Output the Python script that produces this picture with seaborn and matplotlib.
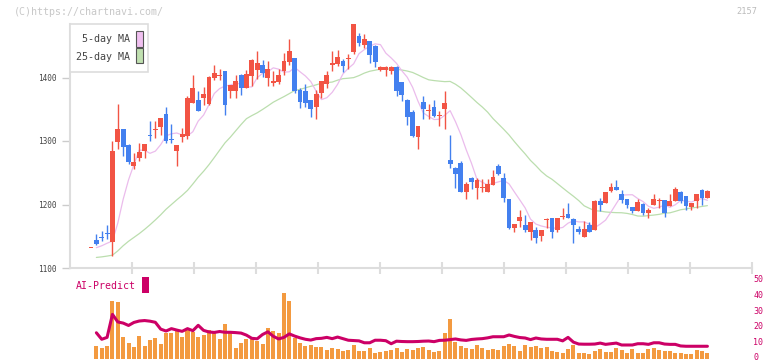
import numpy as np
import pandas as pd
import seaborn as sns
import matplotlib.pyplot as plt
from matplotlib.patches import Rectangle
from matplotlib.transforms import ScaledTranslation

# daily prices (yen); bar 0 is the flat reference bar before trading starts
opens = [1132, 1144, 1148, 1154, 1141, 1299, 1319, 1294, 1261, 1274,
         1284, 1309, 1317, 1322, 1342, 1302, 1285, 1307, 1308, 1360,
         1365, 1368, 1358, 1400, 1403, 1410, 1378, 1378, 1404, 1383,
         1402, 1412, 1420, 1399, 1392, 1393, 1411, 1425, 1431, 1380,
         1379, 1364, 1354, 1375, 1389, 1420, 1421, 1426, 1429, 1440,
         1466, 1451, 1457, 1450, 1412, 1412, 1411, 1417, 1393, 1365,
         1345, 1307, 1362, 1348, 1353, 1339, 1350, 1270, 1258, 1266,
         1220, 1242, 1226, 1226, 1219, 1230, 1261, 1242, 1209, 1163,
         1174, 1168, 1157, 1160, 1151, 1175, 1179, 1160, 1181, 1185,
         1177, 1161, 1149, 1168, 1160, 1206, 1203, 1221, 1228, 1216,
         1208, 1196, 1189, 1200, 1186, 1199, 1205, 1207, 1197, 1206,
         1219, 1213, 1196, 1205, 1223, 1210]
highs = [1132, 1153, 1158, 1168, 1300, 1358, 1319, 1295, 1281, 1297,
         1295, 1331, 1331, 1336, 1354, 1327, 1293, 1320, 1371, 1404,
         1379, 1385, 1403, 1420, 1414, 1410, 1388, 1404, 1405, 1412,
         1429, 1441, 1427, 1426, 1411, 1414, 1439, 1460, 1431, 1384,
         1390, 1364, 1380, 1394, 1411, 1442, 1444, 1429, 1437, 1485,
         1470, 1468, 1457, 1451, 1418, 1418, 1418, 1418, 1393, 1366,
         1349, 1324, 1371, 1358, 1365, 1347, 1378, 1309, 1259, 1269,
         1236, 1244, 1242, 1240, 1240, 1254, 1264, 1249, 1209, 1170,
         1191, 1183, 1172, 1165, 1160, 1179, 1179, 1179, 1195, 1202,
         1179, 1166, 1174, 1173, 1207, 1211, 1219, 1234, 1239, 1223,
         1208, 1196, 1209, 1202, 1195, 1217, 1211, 1207, 1217, 1228,
         1222, 1213, 1203, 1217, 1224, 1223]
lows = [1132, 1136, 1143, 1146, 1119, 1287, 1277, 1264, 1256, 1268,
        1274, 1300, 1305, 1309, 1297, 1297, 1260, 1299, 1303, 1360,
        1348, 1356, 1357, 1396, 1396, 1341, 1367, 1367, 1372, 1383,
        1387, 1397, 1401, 1386, 1386, 1389, 1404, 1419, 1376, 1352,
        1353, 1338, 1334, 1368, 1383, 1411, 1418, 1408, 1413, 1437,
        1450, 1446, 1423, 1417, 1410, 1402, 1405, 1371, 1363, 1325,
        1307, 1287, 1335, 1335, 1338, 1324, 1319, 1257, 1226, 1220,
        1208, 1224, 1208, 1219, 1219, 1230, 1247, 1204, 1161, 1156,
        1165, 1156, 1144, 1139, 1143, 1163, 1147, 1156, 1177, 1179,
        1140, 1153, 1149, 1156, 1160, 1190, 1203, 1219, 1223, 1202,
        1194, 1186, 1189, 1184, 1179, 1199, 1194, 1181, 1197, 1206,
        1202, 1191, 1192, 1195, 1199, 1210]
closes = [1132, 1138, 1147, 1153, 1284, 1319, 1291, 1267, 1267, 1283,
          1295, 1308, 1318, 1336, 1300, 1301, 1293, 1311, 1368, 1384,
          1348, 1374, 1400, 1407, 1404, 1356, 1388, 1394, 1383, 1405,
          1428, 1423, 1407, 1413, 1395, 1404, 1426, 1441, 1379, 1362,
          1360, 1351, 1374, 1394, 1404, 1423, 1433, 1418, 1430, 1484,
          1455, 1460, 1436, 1424, 1417, 1417, 1417, 1378, 1373, 1338,
          1308, 1324, 1350, 1349, 1340, 1340, 1360, 1263, 1248, 1220,
          1232, 1236, 1239, 1227, 1232, 1244, 1248, 1211, 1163, 1170,
          1181, 1160, 1172, 1148, 1160, 1176, 1156, 1179, 1182, 1179,
          1167, 1156, 1161, 1156, 1205, 1199, 1219, 1228, 1223, 1207,
          1200, 1189, 1204, 1186, 1191, 1209, 1206, 1186, 1206, 1224,
          1206, 1197, 1203, 1217, 1210, 1221]
volumes = [0, 13, 11, 13, 58, 57, 22, 16, 12, 23,
           13, 19, 21, 15, 26, 26, 28, 22, 29, 27,
           22, 24, 29, 28, 20, 35, 28, 11, 16, 20,
           22, 18, 15, 31, 28, 26, 66, 58, 21, 16,
           13, 14, 12, 12, 9, 11, 10, 8, 9, 14,
           8, 8, 11, 6, 7, 8, 9, 11, 7, 10,
           9, 11, 12, 9, 7, 8, 26, 40, 17, 13,
           11, 10, 14, 11, 9, 10, 9, 13, 15, 13,
           8, 14, 12, 13, 11, 12, 8, 7, 6, 10,
           14, 6, 6, 5, 8, 10, 7, 7, 11, 9,
           6, 10, 6, 6, 10, 11, 9, 8, 8, 6,
           6, 5, 5, 9, 8, 6]
# AI-Predict line, from bar 1 onwards (right-hand scale 0-50)
ai_predict = [15.7, 11.6, 12.8, 27.3, 22.5, 21.8, 20.3, 22.2, 23.1, 23.4,
              23.0, 22.3, 18.0, 16.8, 18.3, 17.4, 16.6, 18.3, 17.0, 20.4,
              17.2, 16.2, 15.9, 16.5, 16.0, 16.0, 15.8, 15.5, 14.2, 12.2,
              11.9, 14.6, 16.3, 13.5, 11.8, 12.8, 15.0, 13.6, 12.5, 11.6,
              11.1, 12.0, 12.2, 12.8, 12.0, 13.0, 12.0, 11.0, 10.8, 10.6,
              9.4, 9.4, 11.0, 11.0, 10.7, 8.8, 10.4, 10.2, 10.1, 10.1,
              10.2, 10.4, 10.5, 10.1, 10.9, 11.0, 11.4, 11.8, 11.2, 10.9,
              11.5, 11.8, 12.0, 12.5, 13.2, 13.2, 13.2, 14.3, 13.4, 12.7,
              12.4, 11.4, 12.4, 11.8, 11.6, 11.6, 11.6, 10.6, 12.8, 9.8,
              8.6, 8.5, 8.5, 8.6, 9.2, 8.4, 8.8, 9.2, 8.0, 8.0,
              8.0, 8.8, 8.8, 8.4, 9.4, 9.4, 8.6, 8.4, 8.4, 7.4,
              7.2, 7.2, 7.2, 7.2, 7.2]
date_labels = ["7/28", "8/12", "8/26", "9/9", "9/25", "10/9",
               "10/24", "11/10", "11/25", "12/9", "12/23"]
date_bars = [15, 25, 35, 45, 55, 65, 75, 85, 95, 105, 115]
PRE_LISTING = 1116  # value the 25-day MA is padded with before listing

RED, BLUE = "#f25444", "#4380ef"
PINK, GREEN = "#ebbcec", "#bbdeae"
ORANGE, MAGENTA = "#f39a40", "#cc0066"

W, H = 772, 361


def fx(px):
    return px / W


def fy(py):
    return 1 - py / H


df = pd.DataFrame({"o": opens, "h": highs, "l": lows, "c": closes, "v": volumes})
df["x"] = np.arange(len(df))

# moving averages, drawn one bar later like the original chart
ma5 = df["c"].rolling(5, min_periods=1).mean()
padded = pd.concat([pd.Series([PRE_LISTING] * 24), df["c"]], ignore_index=True)
ma25 = padded.rolling(25).mean().iloc[24:].reset_index(drop=True)
ma_x = df["x"].values[:-1] + 1

sns.set_theme(style="white")
plt.rcParams["font.family"] = ["DejaVu Sans Mono", "DejaVu Sans"]

fig = plt.figure(figsize=(7.72, 3.61), dpi=100)
ax = fig.add_axes([fx(70), fy(268), fx(752) - fx(70), fy(24) - fy(268)])
ax_v = fig.add_axes([fx(70), fy(359), fx(752) - fx(70), fy(276) - fy(359)])
xlim = (-3.92, 123.32)

# price panel
sns.lineplot(x=ma_x, y=ma25.values[:-1], ax=ax, color=GREEN, lw=0.9, zorder=1)
sns.lineplot(x=ma_x, y=ma5.values[:-1], ax=ax, color=PINK, lw=0.9, zorder=1)
up = df["c"] >= df["o"]
cols = np.where(up, RED, BLUE)
ax.vlines(df["x"], df["l"], df["h"], colors=cols, lw=1, zorder=2, clip_on=False)
body = (df["c"] - df["o"]).abs().clip(lower=1.5)
ax.bar(df["x"], body, bottom=df[["o", "c"]].min(axis=1), width=0.9,
       color=cols, linewidth=0, zorder=3)

ax.set_xlim(*xlim)
ax.set_ylim(1100, 1100 + 244 / 0.635)
ax.set_yticks([1100, 1200, 1300, 1400])
ax.set_xticks(date_bars)
ax.set_xticklabels(date_labels)
ax.set_xticks(np.linspace(xlim[0], xlim[1], 12)[1:], minor=True)
ax.tick_params(axis="x", which="major", length=0, pad=7, labelsize=5.6,
               labelcolor="#555555")
ax.tick_params(axis="x", which="minor", direction="inout", length=8, width=1.5,
               color="#dddddd", bottom=True)
ax.tick_params(axis="y", length=6, width=1, color="#cccccc", left=True,
               labelsize=5.6, labelcolor="#444444", pad=3.5)
for s in ["top", "right"]:
    ax.spines[s].set_visible(False)
for s in ["left", "bottom"]:
    ax.spines[s].set_color("#dddddd")
    ax.spines[s].set_linewidth(1.5)
ax.set_xlabel("")
ax.set_ylabel("")

# volume + AI-Predict panel
sns.barplot(x=df["x"], y=df["v"], native_scale=True, ax=ax_v, color=ORANGE,
            width=0.75, errorbar=None, saturation=1, linewidth=0)
ax_v.set_xlim(*xlim)
ax_v.set_ylim(0, 83)
ax_v.set_xticks([])
ax_v.set_yticks([])
ax_v.set_xlabel("")
ax_v.set_ylabel("")
for s in ax_v.spines.values():
    s.set_visible(False)

ax_ai = ax_v.twinx()
sns.lineplot(x=df["x"].values[1:], y=ai_predict, ax=ax_ai, color=MAGENTA, lw=2.2)
ax_ai.set_xlim(*xlim)
ax_ai.set_ylim(-0.82, 51.45)
ax_ai.set_yticks(range(0, 51, 10))
ax_ai.tick_params(axis="y", length=0, pad=1, labelsize=6, labelcolor=MAGENTA)
ax_ai.set_ylabel("")
for s in ax_ai.spines.values():
    s.set_visible(False)
# keep the "0" label inside the picture
zero_lbl = ax_ai.get_yticklabels()[0]
zero_lbl.set_verticalalignment("bottom")
zero_lbl.set_transform(zero_lbl.get_transform() + ScaledTranslation(0, -3 / 72, fig.dpi_scale_trans))

# legend box
fig.add_artist(Rectangle((fx(70), fy(72)), fx(78), 48 / H, transform=fig.transFigure,
                         facecolor="white", edgecolor="#dddddd", lw=1.2, zorder=5))
fig.text(fx(129.5), fy(39.5), "5-day MA", ha="right", va="center", fontsize=7.2,
         color="#444444", zorder=6)
fig.text(fx(129.5), fy(56.5), "25-day MA", ha="right", va="center", fontsize=7.2,
         color="#444444", zorder=6)
fig.add_artist(Rectangle((fx(136), fy(46.7)), fx(6.7), 15.7 / H, transform=fig.transFigure,
                         facecolor="#f0c0f0", edgecolor="#555555", lw=0.8, zorder=6))
fig.add_artist(Rectangle((fx(136), fy(63.3)), fx(6.7), 15.0 / H, transform=fig.transFigure,
                         facecolor="#c0e0b0", edgecolor="#555555", lw=0.8, zorder=6))

fig.text(fx(14), fy(12), "(C)https://chartnavi.com/", va="center", fontsize=7.2,
         color="#c8c8c8")
fig.text(fx(757), fy(12), "2157", ha="right", va="center", fontsize=6.2, color="#bbbbbb")
fig.text(fx(76), fy(286), "AI-Predict", va="center", fontsize=7.1, color=MAGENTA)
fig.add_artist(Rectangle((fx(142), fy(293)), fx(7), 16 / H, transform=fig.transFigure,
                         facecolor=MAGENTA, edgecolor="none"))

fig.savefig("out.png", dpi=100)
